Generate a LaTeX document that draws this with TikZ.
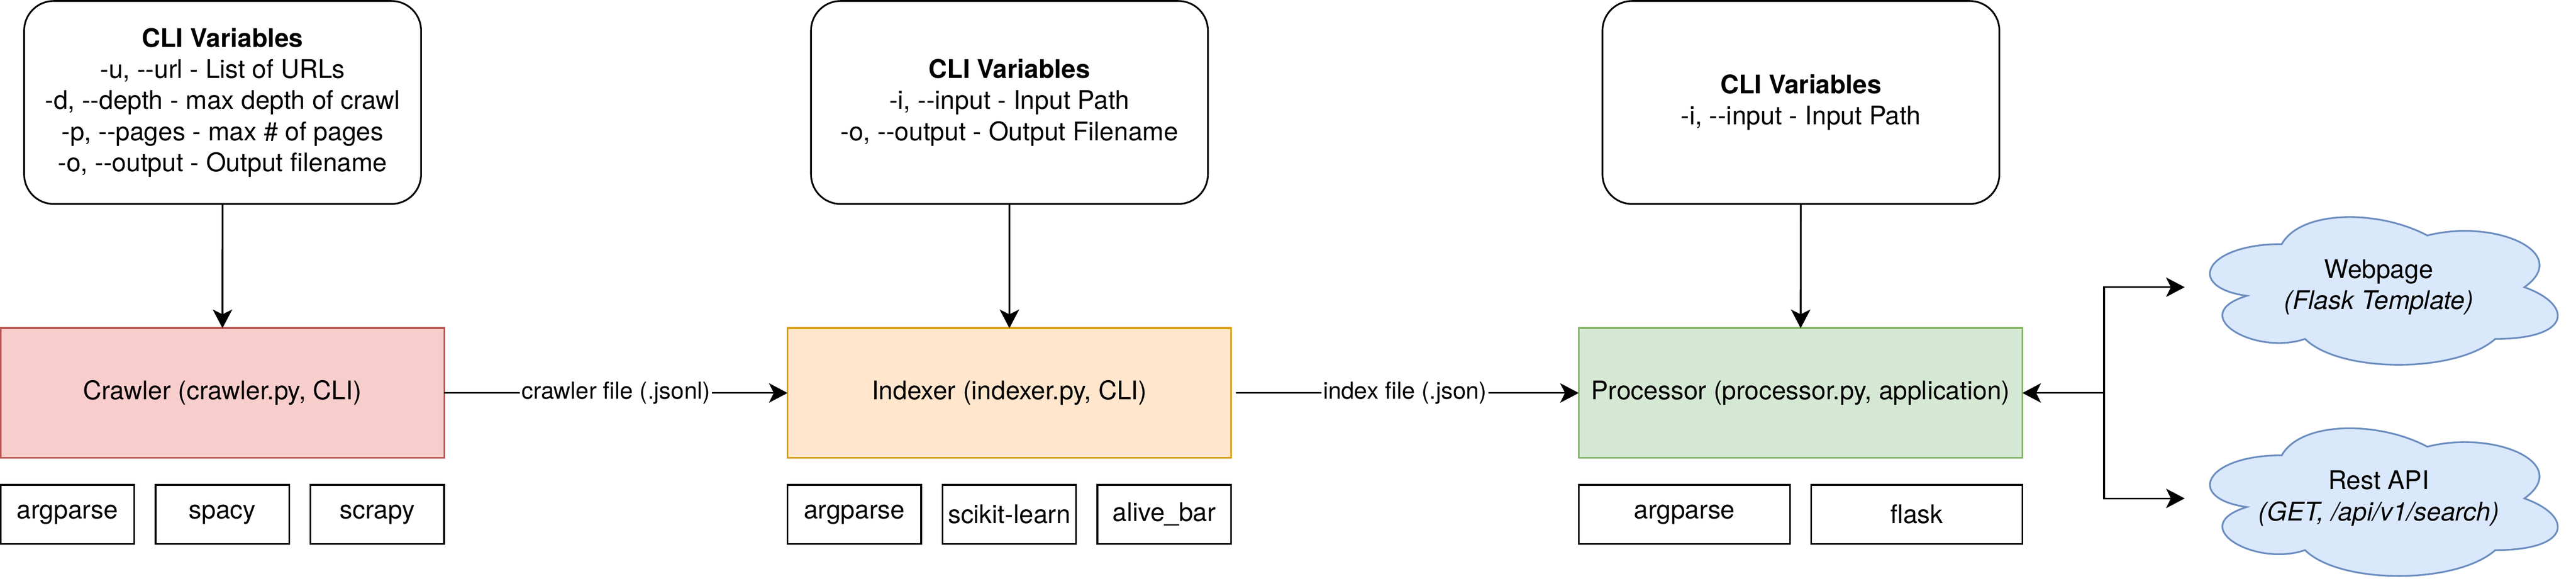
\documentclass[tikz,border=0pt]{standalone}
\usepackage{fontspec}
\setmainfont{TeX Gyre Heros}[Ligatures=TeXOff]
\usepackage{tikz}
\usetikzlibrary{positioning,arrows.meta,backgrounds}

\definecolor{crawlerFill}{HTML}{F8CECC}
\definecolor{crawlerLine}{HTML}{B85450}
\definecolor{indexerFill}{HTML}{FFE6CC}
\definecolor{indexerLine}{HTML}{D79B00}
\definecolor{processorFill}{HTML}{D5E8D4}
\definecolor{processorLine}{HTML}{82B366}
\definecolor{cloudFill}{HTML}{DAE8FC}
\definecolor{cloudLine}{HTML}{6C8EBF}

\begin{document}
\begin{tikzpicture}[x=1pt, y=-1pt, node distance=13pt, outer sep=0pt,
    every node/.style={font=\fontsize{15.6}{18.9}\selectfont},
    cli/.style={draw, line width=1.05pt, rounded corners=18pt,
      minimum width=241.6pt, minimum height=123.4pt, align=center},
    stage/.style 2 args={draw=#1, fill=#2, line width=1.05pt,
      minimum width=270pt, minimum height=78.8pt},
    lib/.style={draw, line width=1.05pt, inner sep=2pt,
      minimum width=#1, minimum height=35.8pt},
    lib/.default=81.3pt,
    cloudSpot/.style={minimum width=236.3pt, minimum height=104.8pt, align=center},
    flow/.style={-{Stealth[length=11.3pt, width=11.8pt, inset=2.9pt]}, line width=1.05pt},
    edgeLabel/.style={fill=white, inner sep=1pt, font=\fontsize{14.3}{17}\selectfont}]
  \useasboundingbox (0,0) rectangle (1568,356);

  \node[cli] (crawlerVars) at (135.5, 62.3)
    {\textbf{CLI Variables}\\-u, --url - List of URLs\\-d, --depth - max depth of crawl\\
     -p, --pages - max \# of pages\\-o, --output - Output filename};
  \node[cli] (indexerVars) at (614.45, 62.3)
    {\textbf{CLI Variables}\\-i, --input - Input Path\\-o, --output - Output Filename};
  \node[cli] (processorVars) at (1096.2, 62.3)
    {\textbf{CLI Variables}\\-i, --input - Input Path};

  \node[stage={crawlerLine}{crawlerFill}] (crawler) at (135.4, 238.9)
    {Crawler (crawler.py, CLI)};
  \node[stage={indexerLine}{indexerFill}] (indexer) at (614.4, 238.9)
    {Indexer (indexer.py, CLI)};
  \node[stage={processorLine}{processorFill}] (processor) at (1096, 238.9)
    {Processor (processor.py, application)};

  \node[lib, below right=16.5pt and 0pt of crawler.south west] (crawlerArgparse) {argparse};
  \node[lib, right=of crawlerArgparse] (crawlerSpacy) {spacy};
  \node[lib, right=of crawlerSpacy] (crawlerScrapy) {scrapy};
  \node[lib, below right=16.5pt and 0pt of indexer.south west] (indexerArgparse) {argparse};
  \node[lib, right=of indexerArgparse] (indexerSklearn) {scikit-learn};
  \node[lib, right=of indexerSklearn] (indexerBar) {alive\_bar};
  \node[lib=128.6pt, below right=16.5pt and 0pt of processor.south west] (processorArgparse) {argparse};
  \node[lib=128.6pt, right=12.8pt of processorArgparse] (processorFlask) {flask};

  \node[cloudSpot] (web) at (1447.95, 174.6) {Webpage\\\textit{(Flask Template)}};
  \node[cloudSpot] (api) at (1447.95, 303.0) {Rest API\\\textit{(GET, /api/v1/search)}};
  \begin{scope}[on background layer]
    \foreach \cl in {web, api} {
      \begin{scope}[shift={(\cl.north west)}, x=236.3pt, y=-104.8pt]
        \draw[draw=cloudLine, fill=cloudFill, line width=1.05pt]
          (0.25,0.25) .. controls (0.05,0.25) and (0,0.5) .. (0.16,0.55)
          .. controls (0,0.66) and (0.18,0.9) .. (0.31,0.8)
          .. controls (0.4,1) and (0.7,1) .. (0.8,0.8)
          .. controls (1,0.8) and (1,0.6) .. (0.875,0.5)
          .. controls (1,0.3) and (0.8,0.1) .. (0.625,0.2)
          .. controls (0.5,0.05) and (0.3,0.05) .. (0.25,0.25) -- cycle;
      \end{scope}
    }
  \end{scope}

  \draw[flow] (crawlerVars) -- (crawler);
  \draw[flow] (indexerVars) -- (indexer);
  \draw[flow] (processorVars) -- (processor);
  \draw[flow] (crawler) -- node[edgeLabel] {crawler file (.jsonl)} (indexer);
  \draw[flow, shorten <=3pt] (indexer) -- node[edgeLabel] {index file (.json)} (processor);

  \coordinate[right=49.7pt of processor.east] (split);
  \draw[flow] (split) -- (processor.east);
  \draw[flow] (split) |- (web.west);
  \draw[flow] (split) |- (api.west);
\end{tikzpicture}
\end{document}
